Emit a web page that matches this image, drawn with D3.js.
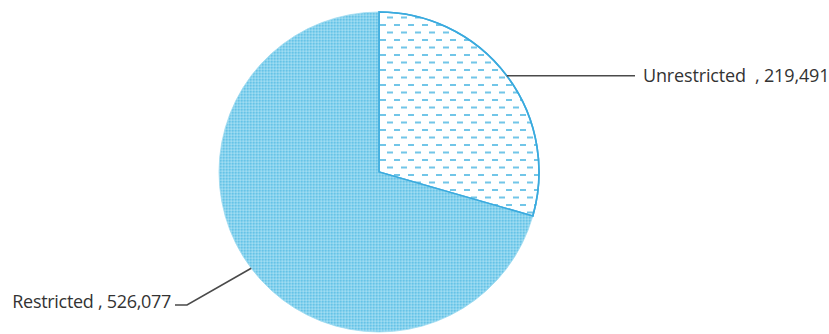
<!DOCTYPE html>
<html><head><meta charset="utf-8">
<script src="https://cdn.jsdelivr.net/npm/d3@7"></script>
<style>body{margin:0;background:#fff}svg{display:block}text{white-space:pre}</style>
</head><body>
<svg id="c" width="829" height="334"></svg>
<script>
const categories = ["Unrestricted", "Restricted"];
const values = [219491, 526077];
const separators = ["  , ", " , "];

const W = 829, H = 334, cx = 379, cy = 172, R = 160;
const svg = d3.select("#c");
const defs = svg.append("defs");

// restricted: fine dotted light blue
const p1 = defs.append("pattern").attr("id", "pRes").attr("patternUnits", "userSpaceOnUse")
  .attr("width", 3).attr("height", 3);
p1.append("rect").attr("width", 3).attr("height", 3).attr("fill", "#86d2ee");
p1.append("rect").attr("x", 0).attr("y", 0).attr("width", 1.5).attr("height", 1.5).attr("fill", "#66c3e6");
p1.append("rect").attr("x", 1.5).attr("y", 1.5).attr("width", 1.5).attr("height", 1.5).attr("fill", "#a0dcf1");

// unrestricted: white with staggered dashes
const p2 = defs.append("pattern").attr("id", "pUnres").attr("patternUnits", "userSpaceOnUse")
  .attr("width", 14).attr("height", 15);
p2.append("rect").attr("width", 14).attr("height", 15).attr("fill", "#ffffff");
p2.append("rect").attr("x", 1).attr("y", 2).attr("width", 6).attr("height", 2).attr("fill", "#72c6e8");
p2.append("rect").attr("x", 8).attr("y", 9.5).attr("width", 6).attr("height", 2).attr("fill", "#72c6e8");

const data = categories.map((c, i) => ({cat: c, value: values[i], sep: separators[i]}));
const pie = d3.pie().value(d => d.value).sort(null);
const arcs = pie(data);
const arc = d3.arc().innerRadius(0).outerRadius(R);

const g = svg.append("g").attr("transform", `translate(${cx},${cy})`);
g.selectAll("path.slice").data(arcs).join("path")
  .attr("class", "slice")
  .attr("d", arc)
  .attr("fill", (d, i) => i === 0 ? "url(#pUnres)" : "url(#pRes)")
  .attr("stroke", (d, i) => i === 0 ? "#3aaade" : "#9fdaf0")
  .attr("stroke-width", (d, i) => i === 0 ? 1.6 : 0.8);
g.append("path").attr("d", arc(arcs[0])).attr("fill", "none").attr("stroke", "#3aaade").attr("stroke-width", 1.6);

const fmt = d3.format(",");
function arcPoint(angle) { return [R * Math.sin(angle), -R * Math.cos(angle)]; }
const font = "Open Sans, Liberation Sans, sans-serif";

// Unrestricted label
const a0 = arcs[0];
const pU = arcPoint(a0.startAngle + (a0.endAngle - a0.startAngle) * 0.5);
g.append("polyline")
  .attr("points", [[pU[0], pU[1]], [256, pU[1]]].map(p => p.join(",")).join(" "))
  .attr("fill", "none").attr("stroke", "#4a4a4a").attr("stroke-width", 1.6);
g.append("text").attr("x", 264).attr("y", pU[1] + 6)
  .attr("font-family", font).attr("font-size", 18).attr("letter-spacing", -0.15).attr("fill", "#333")
  .text(data[0].cat + data[0].sep + fmt(data[0].value));

// Restricted label
const a1 = arcs[1];
const pR = arcPoint(a1.startAngle + (a1.endAngle - a1.startAngle) * 0.5);
g.append("polyline")
  .attr("points", [[pR[0], pR[1]], [-192, 133], [-204, 133]].map(p => p.join(",")).join(" "))
  .attr("fill", "none").attr("stroke", "#4a4a4a").attr("stroke-width", 1.6);
g.append("text").attr("x", -208).attr("y", 136).attr("text-anchor", "end")
  .attr("font-family", font).attr("font-size", 18).attr("letter-spacing", -0.3).attr("fill", "#333")
  .text(data[1].cat + data[1].sep + fmt(data[1].value));
</script>
</body></html>
